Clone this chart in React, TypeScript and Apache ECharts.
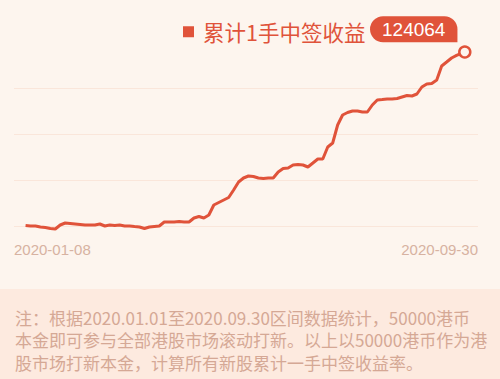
import React, { useEffect, useRef } from "react";
import * as echarts from "echarts";

const seriesName = "累计1手中签收益";

const dates = [
  "2020-01-08", "2020-01-11", "2020-01-14", "2020-01-17", "2020-01-20", "2020-01-23", "2020-01-26", "2020-01-29",
  "2020-02-01", "2020-02-04", "2020-02-07", "2020-02-10", "2020-02-13", "2020-02-16", "2020-02-19", "2020-02-22",
  "2020-02-25", "2020-02-28", "2020-03-02", "2020-03-05", "2020-03-08", "2020-03-11", "2020-03-14", "2020-03-17",
  "2020-03-20", "2020-03-23", "2020-03-26", "2020-03-29", "2020-04-01", "2020-04-04", "2020-04-07", "2020-04-10",
  "2020-04-13", "2020-04-16", "2020-04-19", "2020-04-22", "2020-04-25", "2020-04-28", "2020-05-01", "2020-05-04",
  "2020-05-07", "2020-05-10", "2020-05-13", "2020-05-16", "2020-05-19", "2020-05-22", "2020-05-25", "2020-05-28",
  "2020-05-31", "2020-06-03", "2020-06-06", "2020-06-09", "2020-06-12", "2020-06-15", "2020-06-18", "2020-06-21",
  "2020-06-24", "2020-06-27", "2020-06-30", "2020-07-03", "2020-07-06", "2020-07-09", "2020-07-12", "2020-07-15",
  "2020-07-18", "2020-07-21", "2020-07-24", "2020-07-27", "2020-07-30", "2020-08-02", "2020-08-05", "2020-08-08",
  "2020-08-11", "2020-08-14", "2020-08-17", "2020-08-20", "2020-08-23", "2020-08-26", "2020-08-29", "2020-09-01",
  "2020-09-04", "2020-09-07", "2020-09-10", "2020-09-13", "2020-09-16", "2020-09-19", "2020-09-22", "2020-09-25",
  "2020-09-30",
];

const values = [
  357, 0, 0, -713, -1070, -1783, -2139, 713,
  2139, 1783, 1426, 1070, 713, 713, 713, 1426,
  0, 713, 357, 713, 0, 0, -357, -713,
  -1783, -713, -357, 0, 2852, 2852, 2852, 3209,
  2923, 2852, 5704, 6774, 5704, 7843, 14973, 16756,
  18538, 20321, 25668, 31372, 34224, 35650, 35294, 34224,
  33867, 34224, 34224, 38502, 41002, 41360, 43490, 43850,
  43490, 42060, 44910, 47770, 47770, 56330, 59180, 72010,
  79140, 80930, 82000, 82000, 81290, 81290, 86280, 89850,
  90200, 90560, 90560, 90920, 91990, 93050, 92700, 94120,
  99110, 101260, 101610, 104110, 114090, 116940, 119800, 121630,
  124064,
];

const axisStart = "2020-01-01";
const axisEnd = "2020-10-08";

const noteLines = [
  "注：根据2020.01.01至2020.09.30区间数据统计，50000港币",
  "本金即可参与全部港股市场滚动打新。以上以50000港币作为港",
  "股市场打新本金，计算所有新股累计一手中签收益率。",
];

const RED = "#e0533a";
const BG = "#fdf5ee";

const toTs = (s: string) => new Date(s + "T00:00:00").getTime();

export default function App() {
  const ref = useRef<HTMLDivElement>(null);
  useEffect(() => {
    if (!ref.current) return;
    const chart = echarts.init(ref.current, null, { renderer: "svg" });
    const minTs = toTs(axisStart);
    const maxTs = toTs(axisEnd);
    const last = values.length - 1;
    const data = values.map((v, i) => {
      if (i !== last) return [toTs(dates[i]), v];
      return {
        value: [toTs(dates[i]), v],
        symbol: "circle",
        symbolSize: 11,
        itemStyle: { color: BG, borderColor: RED, borderWidth: 2.5 },
        label: {
          show: true,
          position: [-88, -29],
          formatter: (p: any) => String(p.value[1]),
          color: "#ffffff",
          fontSize: 19,
          fontWeight: 500,
          fontFamily: "Liberation Sans, Arial, sans-serif",
          backgroundColor: RED,
          borderRadius: [13, 13, 0, 13],
          padding: [3, 12, 2, 12],
          lineHeight: 21,
        },
      };
    });
    chart.setOption({
      animation: false,
      backgroundColor: BG,
      graphic: [
        {
          type: "rect",
          shape: { x: 0, y: 289, width: 500, height: 90 },
          style: { fill: "#fdeadf" },
          z: -1,
        },
        {
          type: "text",
          left: 15,
          top: 306,
          style: {
            text: noteLines.join("\n"),
            fill: "#d5a895",
            font: "17px 'Noto Sans CJK SC', sans-serif",
            lineHeight: 22.5,
          },
        },
      ],
      legend: {
        left: 178,
        top: 16,
        icon: "rect",
        itemWidth: 11,
        itemHeight: 11,
        selectedMode: false,
        textStyle: {
          color: RED,
          fontSize: 21.5,
          fontFamily: "'Noto Sans CJK SC', sans-serif",
          padding: [0, 0, 0, 4],
        },
        data: [seriesName],
      },
      grid: { left: 14, right: 22, top: 42, bottom: 153 },
      xAxis: {
        type: "value",
        min: minTs,
        max: maxTs,
        axisLine: { show: false },
        axisTick: { show: false },
        splitLine: { show: false },
        axisLabel: {
          customValues: [minTs, maxTs],
          alignMinLabel: "left",
          alignMaxLabel: "right",
          formatter: (val: number) => (val <= minTs + 1000 ? dates[0] : dates[last]),
          color: "#d7b2a1",
          fontSize: 15,
          fontFamily: "Liberation Sans, Arial, sans-serif",
          margin: 16,
        },
      },
      yAxis: {
        type: "value",
        min: 0,
        max: 131200,
        interval: 32800,
        axisLabel: { show: false },
        axisLine: { show: false },
        axisTick: { show: false },
        splitLine: {
          show: true,
          showMaxLine: false,
          lineStyle: { color: "#fae6da", width: 1 },
        },
      },
      series: [
        {
          name: seriesName,
          type: "line",
          symbol: "none",
          clip: false,
          color: RED,
          lineStyle: { color: RED, width: 3 },
          data,
        },
      ],
    });
    return () => chart.dispose();
  }, []);
  return (
    <div
      ref={ref}
      style={{ position: "absolute", left: 0, top: 0, width: 500, height: 379 }}
    />
  );
}
